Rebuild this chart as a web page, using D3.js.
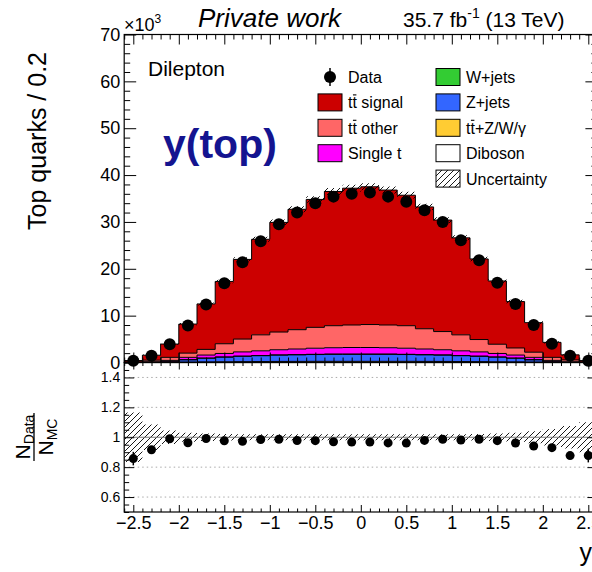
<!DOCTYPE html>
<html><head><meta charset="utf-8">
<script src="https://cdn.jsdelivr.net/npm/d3@7"></script>
<style>body{margin:0;background:#fff;overflow:hidden}svg{display:block}text{font-family:"Liberation Sans",Arial,Helvetica,sans-serif}</style>
</head><body><svg id="c" width="592" height="572"></svg>
<script>
// ---------- DATA (values in units of 10^3 top quarks) ----------
const binCenters = [-2.5,-2.3,-2.1,-1.9,-1.7,-1.5,-1.3,-1.1,-0.9,-0.7,-0.5,-0.3,-0.1,0.1,0.3,0.5,0.7,0.9,1.1,1.3,1.5,1.7,1.9,2.1,2.3,2.5];
const dataVals = [0.36,1.43,3.9,7.9,12.4,16.9,21.4,25.9,29.5,32.0,34.0,35.4,36.0,36.3,35.4,34.3,32.5,30.0,26.1,21.8,17.0,12.5,8.0,4.0,1.43,0.36];
const ttSignal = [0.32,1.06,2.84,6.2,9.7,13.3,17.0,20.4,23.4,25.7,27.3,28.65,29.2,29.4,28.8,27.85,26.0,23.8,20.7,17.2,13.5,9.9,6.3,3.2,1.08,0.31];
const ttOther = [0.07,0.36,0.65,0.9,1.21,2.07,2.74,3.41,3.78,4.12,4.45,4.7,4.8,4.9,4.85,4.8,4.32,3.88,3.41,2.64,1.97,1.51,1.1,0.65,0.41,0.07];
const singleT = [0.02,0.1,0.3,0.5,0.65,0.75,0.9,1.0,1.1,1.2,1.3,1.35,1.4,1.4,1.35,1.3,1.2,1.1,1.0,0.9,0.75,0.65,0.5,0.3,0.1,0.02];
const wJets = [0,0,0.01,0.02,0.02,0.03,0.03,0.04,0.04,0.04,0.05,0.05,0.05,0.05,0.05,0.05,0.04,0.04,0.04,0.03,0.03,0.02,0.02,0.01,0,0];
const zJets = [0.01,0.03,0.1,0.5,0.8,1.0,1.15,1.25,1.35,1.4,1.45,1.5,1.5,1.5,1.5,1.45,1.4,1.35,1.25,1.15,1.0,0.8,0.5,0.1,0.03,0.01];
const ttV = [0,0.01,0.03,0.06,0.09,0.12,0.14,0.16,0.18,0.19,0.2,0.2,0.2,0.2,0.2,0.2,0.19,0.18,0.16,0.14,0.12,0.09,0.06,0.03,0.01,0];
const diboson = [0,0,0.01,0.02,0.03,0.03,0.04,0.04,0.05,0.05,0.05,0.05,0.05,0.05,0.05,0.05,0.05,0.05,0.04,0.04,0.03,0.03,0.02,0.01,0,0];
const relUncert = [0.165,0.085,0.045,0.03,0.025,0.022,0.02,0.02,0.02,0.02,0.02,0.02,0.02,0.02,0.02,0.02,0.02,0.02,0.02,0.022,0.025,0.03,0.04,0.055,0.075,0.1];
const binWidth = 0.2;
const yTicksMain = [0,10,20,30,40,50,60,70];
const yTicksRatio = [0.6,0.8,1,1.2,1.4];
const xTicks = [-2.5,-2,-1.5,-1,-0.5,0,0.5,1,1.5,2,2.5];
const xTickLabels = ["\u22122.5","\u22122","\u22121.5","\u22121","\u22120.5","0","0.5","1","1.5","2","2.5"];

// ---------- LAYOUT ----------
const svg = d3.select('#c');
const xL=124.2, xR=597.4, yT=34.5, yB=362.5, rT=362.5, rB=512;
const x = d3.scaleLinear().domain([-2.6,2.6]).range([xL,xR]);
const y = d3.scaleLinear().domain([0,70]).range([yB,yT]);
const yr = d3.scaleLinear().domain([0.5,1.5]).range([rB,rT]);

const defs = svg.append('defs');
const pat = defs.append('pattern').attr('id','hatch').attr('patternUnits','userSpaceOnUse').attr('width',6).attr('height',6);
pat.append('path').attr('d','M0,6 L6,0 M-1.5,1.5 L1.5,-1.5 M4.5,7.5 L7.5,4.5').attr('stroke','#000').attr('stroke-width',0.9);
defs.append('clipPath').attr('id','clipTop').append('rect').attr('x',xL).attr('y',yT).attr('width',xR-xL).attr('height',yB-yT);
defs.append('clipPath').attr('id','clipRat').append('rect').attr('x',xL).attr('y',rT).attr('width',xR-xL).attr('height',rB-rT);

const keys = ['diboson','ttV','zJets','wJets','singleT','ttOther','ttSignal'];
const colors = {ttSignal:'#cc0000', ttOther:'#ff6666', singleT:'#ff00ff', wJets:'#33cc33', zJets:'#3366ff', ttV:'#ffcc33', diboson:'#ffffff'};
const src = {ttSignal, ttOther, singleT, wJets, zJets, ttV, diboson};
const rows = binCenters.map((c,i)=>{const r={c}; keys.forEach(k=>r[k]=src[k][i]); return r;});
const series = d3.stack().keys(keys)(rows);
const totals = series[series.length-1].map(d=>d[1]);

const stepPts = (arr, f0, f1) => arr.flatMap((d,i)=>{const c=binCenters[i]; return [{x:c-binWidth/2,y0:f0(d,i),y1:f1(d,i)},{x:c+binWidth/2,y0:f0(d,i),y1:f1(d,i)}];});

// ---------- UPPER PANEL ----------
const gTop = svg.append('g').attr('clip-path','url(#clipTop)');
const area = (ys)=>d3.area().x(p=>x(p.x)).y0(p=>ys(p.y0)).y1(p=>ys(p.y1));
const line = (ys)=>d3.line().x(p=>x(p.x)).y(p=>ys(p.y1));
series.forEach(s=>{
  const pts = stepPts(s, d=>d[0], d=>d[1]);
  gTop.append('path').attr('d',area(y)(pts)).attr('fill',colors[s.key]).attr('stroke','none');
});
series.forEach(s=>{
  const pts = stepPts(s, d=>d[0], d=>d[1]);
  gTop.append('path').attr('d',line(y)(pts)).attr('fill','none').attr('stroke','#000').attr('stroke-width',1);
});
// uncertainty band
const uPts = stepPts(totals, (t,i)=>t*(1-relUncert[i]), (t,i)=>t*(1+relUncert[i]));
gTop.append('path').attr('d',area(y)(uPts)).attr('fill','url(#hatch)').attr('stroke','none');

// data
const gData = svg.append('g');
dataVals.forEach((v,i)=>{
  const e = Math.sqrt(v*1000)/1000;
  gData.append('line').attr('x1',x(binCenters[i])).attr('x2',x(binCenters[i])).attr('y1',y(v-e)).attr('y2',y(v+e)).attr('stroke','#000').attr('stroke-width',1.5);
  gData.append('circle').attr('cx',x(binCenters[i])).attr('cy',y(v)).attr('r',6).attr('fill','#000');
});

// ---------- RATIO PANEL ----------
const gR = svg.append('g').attr('clip-path','url(#clipRat)');
[0.6,0.8,1.2,1.4].forEach(t=>{
  gR.append('line').attr('x1',xL).attr('x2',xR).attr('y1',yr(t)).attr('y2',yr(t)).attr('stroke','#aaa').attr('stroke-width',1).attr('stroke-dasharray','1.5,3');
});
const rPts = stepPts(relUncert, u=>1-u, u=>1+u);
gR.append('path').attr('d',area(yr)(rPts)).attr('fill','url(#hatch)').attr('stroke','none');
gR.append('line').attr('x1',xL).attr('x2',xR).attr('y1',yr(1)).attr('y2',yr(1)).attr('stroke','#777').attr('stroke-width',1.2);
const gRd = svg.append('g');
dataVals.forEach((v,i)=>{
  const r = v/totals[i];
  const e = r/Math.sqrt(v*1000);
  gRd.append('line').attr('x1',x(binCenters[i])).attr('x2',x(binCenters[i])).attr('y1',yr(r-e)).attr('y2',yr(r+e)).attr('stroke','#000').attr('stroke-width',1.5);
  gRd.append('circle').attr('cx',x(binCenters[i])).attr('cy',yr(r)).attr('r',4.5).attr('fill','#000');
});

// ---------- AXES ----------
function styleAxis(g, fs){
  g.select('.domain').remove();
  g.selectAll('line').attr('stroke','#000').attr('stroke-width',1);
  g.selectAll('text').attr('font-size',fs).attr('font-family','"Liberation Sans",Arial,sans-serif').attr('fill','#000');
}
const xMinor = d3.range(-26,27).map(v=>v/10).filter(v=>Math.abs(v*2-Math.round(v*2))>1e-6);
const yMinor = d3.range(0,71,2).filter(v=>v%10!==0);
const rMinor = d3.range(10,31).map(v=>v/20).filter(v=>Math.abs(v*5-Math.round(v*5))>1e-6);

// upper panel axes
svg.append('g').attr('transform',`translate(${xL},0)`).call(d3.axisLeft(y).tickValues(yTicksMain).tickSize(-12).tickPadding(4).tickFormat(d3.format('d'))).call(g=>styleAxis(g,18));
svg.append('g').attr('transform',`translate(${xL},0)`).call(d3.axisLeft(y).tickValues(yMinor).tickSize(-6).tickFormat('')).call(g=>styleAxis(g,18));
svg.append('g').attr('transform',`translate(${xR},0)`).call(d3.axisRight(y).tickValues(yTicksMain).tickSize(-12).tickFormat('')).call(g=>styleAxis(g,18));
svg.append('g').attr('transform',`translate(${xR},0)`).call(d3.axisRight(y).tickValues(yMinor).tickSize(-6).tickFormat('')).call(g=>styleAxis(g,18));
svg.append('g').attr('transform',`translate(0,${yB})`).call(d3.axisBottom(x).tickValues(xTicks).tickSize(-10).tickFormat('')).call(g=>styleAxis(g,18));
svg.append('g').attr('transform',`translate(0,${yB})`).call(d3.axisBottom(x).tickValues(xMinor).tickSize(-5).tickFormat('')).call(g=>styleAxis(g,18));
svg.append('g').attr('transform',`translate(0,${yT})`).call(d3.axisTop(x).tickValues(xTicks).tickSize(-10).tickFormat('')).call(g=>styleAxis(g,18));
svg.append('g').attr('transform',`translate(0,${yT})`).call(d3.axisTop(x).tickValues(xMinor).tickSize(-5).tickFormat('')).call(g=>styleAxis(g,18));
svg.append('rect').attr('x',xL).attr('y',yT).attr('width',xR-xL).attr('height',yB-yT).attr('fill','none').attr('stroke','#000').attr('stroke-width',1.2);

// ratio panel axes
svg.append('g').attr('transform',`translate(${xL},0)`).call(d3.axisLeft(yr).tickValues(yTicksRatio).tickSize(-10).tickPadding(4).tickFormat(d=>String(d))).call(g=>styleAxis(g,14));
svg.append('g').attr('transform',`translate(${xL},0)`).call(d3.axisLeft(yr).tickValues(rMinor).tickSize(-5).tickFormat('')).call(g=>styleAxis(g,14));
svg.append('g').attr('transform',`translate(${xR},0)`).call(d3.axisRight(yr).tickValues(yTicksRatio).tickSize(-10).tickFormat('')).call(g=>styleAxis(g,14));
svg.append('g').attr('transform',`translate(${xR},0)`).call(d3.axisRight(yr).tickValues(rMinor).tickSize(-5).tickFormat('')).call(g=>styleAxis(g,14));
svg.append('g').attr('transform',`translate(0,${rB})`).call(d3.axisBottom(x).tickValues(xTicks).tickSize(-7).tickPadding(4).tickFormat((d,i)=>xTickLabels[i])).call(g=>styleAxis(g,18));
svg.append('g').attr('transform',`translate(0,${rB})`).call(d3.axisBottom(x).tickValues(xMinor).tickSize(-3.5).tickFormat('')).call(g=>styleAxis(g,18));
svg.append('g').attr('transform',`translate(0,${rT})`).call(d3.axisTop(x).tickValues(xTicks).tickSize(-7).tickFormat('')).call(g=>styleAxis(g,18));
svg.append('g').attr('transform',`translate(0,${rT})`).call(d3.axisTop(x).tickValues(xMinor).tickSize(-3.5).tickFormat('')).call(g=>styleAxis(g,18));
svg.append('rect').attr('x',xL).attr('y',rT).attr('width',xR-xL).attr('height',rB-rT).attr('fill','none').attr('stroke','#000').attr('stroke-width',1.2);

// ---------- TEXTS ----------
const T = (xx,yy,txt,fs,opts={})=>{const t=svg.append('text').attr('x',xx).attr('y',yy).attr('font-size',fs).attr('fill',opts.fill||'#000').text(txt);
  if(opts.anchor) t.attr('text-anchor',opts.anchor); if(opts.italic) t.attr('font-style','italic'); if(opts.bold) t.attr('font-weight','bold'); return t;};
// x10^3
const e3 = T(124,31,'\u00d710',18); e3.append('tspan').attr('dy',-8).attr('font-size',12).text('3');
T(198,27,'Private work',26,{italic:true});
const lumi = T(403,27,'35.7 fb',21); lumi.append('tspan').attr('dy',-9).attr('font-size',14).text('-1'); lumi.append('tspan').attr('dy',9).text(' (13 TeV)');
T(148,76,'Dilepton',21);
T(163,158,'y(top)',41,{bold:true, fill:'#141490'});

// axis titles
svg.append('text').attr('transform','translate(46,52) rotate(-90)').attr('text-anchor','end').attr('font-size',25).text('Top quarks / 0.2');
T(592,561,'y',25,{anchor:'end'});
const rt = svg.append('g').attr('transform','translate(34,437) rotate(-90)');
const n1 = rt.append('text').attr('x',0).attr('y',-4).attr('text-anchor','middle').attr('font-size',21).text('N');
n1.append('tspan').attr('dy',4).attr('font-size',14).text('Data');
rt.append('line').attr('x1',-24).attr('x2',24).attr('y1',0).attr('y2',0).attr('stroke','#000').attr('stroke-width',1.3);
const n2 = rt.append('text').attr('x',0).attr('y',19).attr('text-anchor','middle').attr('font-size',21).text('N');
n2.append('tspan').attr('dy',4).attr('font-size',14).text('MC');

// ---------- LEGEND ----------
const legend = [
  {col:0,row:0,label:'Data',type:'data'},
  {col:0,row:1,label:'tt signal',type:'box',fill:colors.ttSignal,bar:true},
  {col:0,row:2,label:'tt other',type:'box',fill:colors.ttOther,bar:true},
  {col:0,row:3,label:'Single t',type:'box',fill:colors.singleT},
  {col:1,row:0,label:'W+jets',type:'box',fill:colors.wJets},
  {col:1,row:1,label:'Z+jets',type:'box',fill:colors.zJets},
  {col:1,row:2,label:'tt+Z/W/\u03b3',type:'box',fill:colors.ttV,bar:true},
  {col:1,row:3,label:'Diboson',type:'box',fill:colors.diboson},
  {col:1,row:4,label:'Uncertainty',type:'box',fill:'url(#hatch)'}
];
const colX = [318,436], rowY0 = 77, rowH = 25.4;
legend.forEach(L=>{
  const bx = colX[L.col], cy = rowY0 + L.row*rowH;
  if(L.type==='data'){
    svg.append('line').attr('x1',bx+12).attr('x2',bx+12).attr('y1',cy-9).attr('y2',cy+9).attr('stroke','#000').attr('stroke-width',1.5);
    svg.append('circle').attr('cx',bx+12).attr('cy',cy).attr('r',6).attr('fill','#000');
  } else {
    svg.append('rect').attr('x',bx).attr('y',cy-8.5).attr('width',24).attr('height',17).attr('fill',L.fill).attr('stroke','#000').attr('stroke-width',1);
  }
  const t = T(bx+30,cy+6,L.label,16);
  if(L.bar){
    const ext = t.node().getExtentOfChar(1);
    svg.append('line').attr('x1',ext.x+0.5).attr('x2',ext.x+ext.width-0.5).attr('y1',cy-7.5).attr('y2',cy-7.5).attr('stroke','#000').attr('stroke-width',1.1);
  }
});
</script></body></html>
